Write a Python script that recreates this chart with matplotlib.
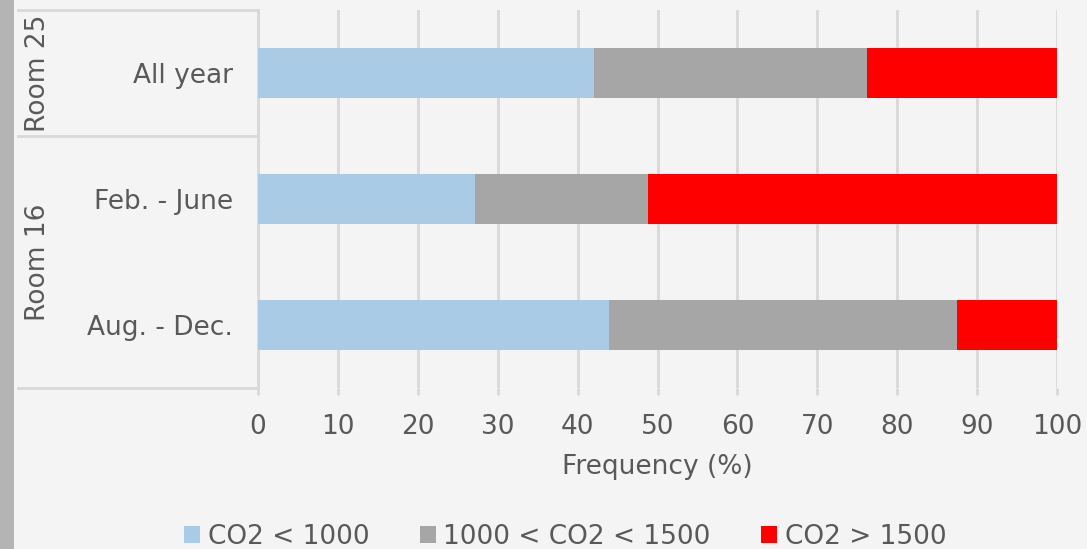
import matplotlib
matplotlib.use('Agg')
import matplotlib.pyplot as plt
from matplotlib.patches import Rectangle
from matplotlib.transforms import blended_transform_factory

# CO2 concentration bands (ppm), share of occupied time
periods = ['Aug. - Dec.', 'Feb. - June', 'All year']
rooms = ['Room 16', 'Room 25']
low = [43.9, 27.2, 42.0]
mid = [43.6, 21.6, 34.2]
high = [12.5, 51.2, 23.8]
band_labels = ['CO2 < 1000', '1000 < CO2 < 1500', 'CO2 > 1500']
band_colors = ['#a9cbe6', '#a6a6a6', '#ff0000']
x_ticks = list(range(0, 101, 10))

TEXT = '#595959'
GRID = '#d9d9d9'
FS = 19

plt.rcParams['font.family'] = ['DejaVu Sans']

fig = plt.figure(figsize=(10.87, 5.49), dpi=100, facecolor='#f4f4f4')
# darker strip along the left edge
fig.patches.append(Rectangle((0, 0), 14 / 1087, 1, transform=fig.transFigure,
                             facecolor='#b4b4b4', edgecolor='none', zorder=-1))

ax = fig.add_axes([258 / 1087, 1 - 388 / 549, 799 / 1087, 378 / 549])
ax.set_facecolor('none')

pos = range(len(periods))
left = [0] * len(periods)
for vals, lab, col in zip([low, mid, high], band_labels, band_colors):
    ax.barh(pos, vals, left=left, height=0.4, color=col, label=lab, zorder=3)
    left = [a + b for a, b in zip(left, vals)]

ax.set_xlim(0, 100)
ax.set_ylim(-0.5, 2.5)
ax.set_xticks(x_ticks)
ax.set_yticks(list(pos))
ax.set_yticklabels(periods)
ax.grid(axis='x', color=GRID, linewidth=2, zorder=0)
ax.tick_params(axis='x', colors=GRID, length=5, width=2, labelcolor=TEXT,
               labelsize=FS, pad=14)
ax.tick_params(axis='y', length=0, labelcolor=TEXT, labelsize=FS, pad=18)
for side in ['top', 'right', 'bottom']:
    ax.spines[side].set_visible(False)
ax.spines['left'].set_color(GRID)
ax.spines['left'].set_linewidth(2)

ax.set_xlabel('Frequency (%)', color=TEXT, fontsize=FS, labelpad=10)

# room grouping on the category axis
tr = blended_transform_factory(ax.transAxes, ax.transData)
x0 = -240 / 799
for y in [-0.5, 1.5, 2.5]:
    ax.plot([x0, 0], [y, y], color=GRID, linewidth=2, transform=tr, clip_on=False)
ax.text(-220 / 799, 0.5, rooms[0], rotation=90, ha='center', va='center',
        color=TEXT, fontsize=FS, transform=tr)
ax.text(-220 / 799, 2.0, rooms[1], rotation=90, ha='center', va='center',
        color=TEXT, fontsize=FS, transform=tr)

leg = fig.legend(loc='lower center', bbox_to_anchor=(0.52, -0.045), ncol=3,
                 frameon=False, fontsize=FS, handlelength=0.6, handleheight=0.6,
                 handletextpad=0.3, columnspacing=1.9)
for t in leg.get_texts():
    t.set_color(TEXT)

fig.savefig('out.png', dpi=100, facecolor=fig.get_facecolor())
